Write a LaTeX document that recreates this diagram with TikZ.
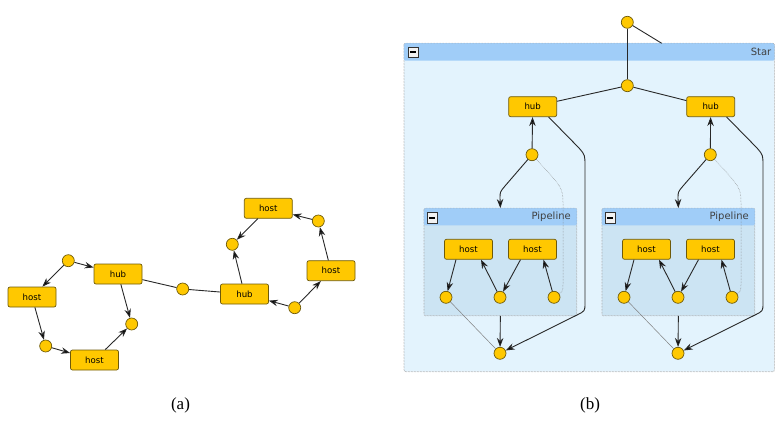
\documentclass[tikz,border=0pt]{standalone}
\usepackage{fontspec}
\setmainfont{Liberation Serif}
\newfontfamily\dv{DejaVu Sans}
\usetikzlibrary{arrows.meta}
\definecolor{ycol}{RGB}{255,200,0}
\definecolor{bcol}{RGB}{110,90,10}
\definecolor{hdrblue}{RGB}{160,205,248}
\definecolor{starbody}{RGB}{227,243,253}
\definecolor{pipebody}{RGB}{204,228,243}
\definecolor{edgecol}{RGB}{40,40,40}
\tikzset{
  hostbox/.style={rectangle, rounded corners=2pt, fill=ycol, draw=bcol, line width=0.7pt,
    minimum width=48pt, minimum height=20pt, inner sep=0pt, font=\dv\fontsize{8.6}{8.6}\selectfont},
  dot/.style={circle, fill=ycol, draw=bcol, line width=0.7pt, minimum size=12pt, inner sep=0pt},
  edge/.style={draw=edgecol, line width=0.9pt},
  arr/.style={edge, -{Stealth[length=9pt,width=6.5pt,fill=black]}},
  thinline/.style={draw=gray, line width=0.5pt},
  dotline/.style={draw=gray, line width=0.5pt, densely dotted},
  container/.style={rectangle, rounded corners=2pt, draw=gray!70, densely dotted, line width=0.5pt, inner sep=0pt},
  minusbox/.style={rectangle, draw=gray!40!black, fill=gray!10, line width=0.6pt, minimum size=10.5pt, inner sep=0pt},
  hdrtext/.style={font=\dv\fontsize{10}{10}\selectfont, text=black!75, inner sep=0pt, anchor=east},
  caption/.style={font=\fontsize{17}{17}\selectfont, inner sep=0pt}
}
\begin{document}
\begin{tikzpicture}[x=1pt,y=-1pt]
\useasboundingbox (0,0) rectangle (779,422);

% ---------------- Panel (a) ----------------
\node[hostbox] (hA1) at (32,297) {host};
\node[hostbox] (hubA1) at (118,274) {hub};
\node[hostbox] (hA2) at (94.5,360) {host};
\node[dot] (cA1) at (68.3,260.7) {};
\node[dot] (cA2) at (45.7,346) {};
\node[dot] (cA3) at (131.7,324) {};
\node[dot] (cM) at (182.7,289) {};
\node[hostbox] (hubA2) at (244.5,294) {hub};
\node[dot] (cA4) at (294.7,307.7) {};
\node[hostbox] (hA3) at (331,270.7) {host};
\node[dot] (cA5) at (318.3,221) {};
\node[hostbox] (hA4) at (268.3,208.3) {host};
\node[dot] (cA6) at (232.3,244.3) {};

\draw[arr] (cA1) -- (hA1);
\draw[arr] (cA1) -- (hubA1);
\draw[arr] (hA1) -- (cA2);
\draw[arr] (cA2) -- (hA2);
\draw[arr] (hA2) -- (cA3);
\draw[arr] (hubA1) -- (cA3);
\draw[edge] (hubA1) -- (cM) -- (hubA2);
\draw[arr] (cA4) -- (hubA2);
\draw[arr] (cA4) -- (hA3);
\draw[arr] (hA3) -- (cA5);
\draw[arr] (cA5) -- (hA4);
\draw[arr] (hA4) -- (cA6);
\draw[arr] (hubA2) -- (cA6);

\node[caption] (capA) at (180.5,405) {(a)};

% ---------------- Panel (b) ----------------
% Star container
\node[container, fill=starbody, minimum width=370.3pt, minimum height=328.4pt] (star) at (589.15,207.5) {};
\fill[hdrblue, rounded corners=2pt] (star.north west) rectangle ([yshift=-17.7pt]star.north east);
\draw[gray!70, densely dotted, line width=0.5pt, rounded corners=2pt] (star.north west) rectangle (star.south east);
\node[minusbox] (mS) at (413.2,52.2) {};
\draw[line width=1.4pt] ([xshift=-3pt]mS.center) -- ([xshift=3pt]mS.center);
\node[hdrtext] (starlbl) at (771.5,52.2) {Star};

% Pipelines
\foreach \nm/\cx in {pipeL/500.35, pipeR/678.35}{
  \node[container, fill=pipebody, minimum width=152.7pt, minimum height=107.4pt] (\nm) at (\cx,262) {};
  \fill[hdrblue, rounded corners=2pt] (\nm.north west) rectangle ([yshift=-17.4pt]\nm.north east);
  \draw[gray!70, densely dotted, line width=0.5pt, rounded corners=2pt] (\nm.north west) rectangle (\nm.south east);
  \node[minusbox] (\nm m) at ([xshift=8.3pt,yshift=-9.9pt]\nm.north west) {};
  \draw[line width=1.4pt] ([xshift=-3pt]\nm m.center) -- ([xshift=3pt]\nm m.center);
  \node[hdrtext] (\nm lbl) at ([xshift=-6pt,yshift=-9pt]\nm.north east) {Pipeline};
}

% top nodes
\node[dot] (cT) at (627.3,22.3) {};
\coordinate (cTend) at (661.7,43.3);
\node[dot] (cS) at (627.3,85.7) {};
\node[hostbox] (hubL) at (532.7,106.7) {hub};
\node[hostbox] (hubR) at (710.7,106.7) {hub};
\node[dot] (cL) at (532,154.7) {};
\node[dot] (cR) at (710.3,154.7) {};

% left pipeline content
\node[hostbox] (pL1) at (468.5,249.3) {host};
\node[hostbox] (pL2) at (532.5,249.3) {host};
\node[dot] (qL1) at (446,297.3) {};
\node[dot] (qL2) at (500,297.3) {};
\node[dot] (qL3) at (554,297.3) {};
\node[dot] (bL) at (500,353.3) {};
% right pipeline content
\node[hostbox] (pR1) at (646.5,249.3) {host};
\node[hostbox] (pR2) at (710.5,249.3) {host};
\node[dot] (qR1) at (624,297.3) {};
\node[dot] (qR2) at (678,297.3) {};
\node[dot] (qR3) at (732,297.3) {};
\node[dot] (bR) at (678,353.3) {};

% edges top
\draw[edge] (cT) -- (cTend);
\draw[edge] (cT) -- (cS);
\draw[edge] (cS) -- (hubL);
\draw[edge] (cS) -- (hubR);
\draw[arr] (cL) -- (hubL);
\draw[arr] (cR) -- (hubR);

% left group edges
\draw[arr] (cL) -- (505,186) .. controls (500,192) .. (500,198) -- (pipeL.north);
\draw[dotline] (cL) .. controls (563,188) .. (563,205) -- (563,282) .. controls (563,291) .. (qL3);
\draw[arr] ([xshift=-8.4pt]hubL.south east) -- (579,148) .. controls (585,155) .. (585,166) -- (585,303) .. controls (585,311) .. (577,315) -- (bL);
\draw[arr] ([xshift=-12.5pt]pL1.south) -- (qL1);
\draw[arr] (qL2) -- ([xshift=12.5pt]pL1.south);
\draw[arr] ([xshift=-12pt]pL2.south) -- (qL2);
\draw[arr] (qL3) -- ([xshift=11pt]pL2.south);
\draw[arr] (pipeL.south) -- (bL);
\draw[thinline] (qL1) -- (bL);

% right group edges
\draw[arr] (cR) -- (683,186) .. controls (678,192) .. (678,198) -- (pipeR.north);
\draw[dotline] (cR) .. controls (741,188) .. (741,205) -- (741,282) .. controls (741,291) .. (qR3);
\draw[arr] ([xshift=-8.4pt]hubR.south east) -- (757,148) .. controls (763,155) .. (763,166) -- (763,303) .. controls (763,311) .. (755,315) -- (bR);
\draw[arr] ([xshift=-12.5pt]pR1.south) -- (qR1);
\draw[arr] (qR2) -- ([xshift=12.5pt]pR1.south);
\draw[arr] ([xshift=-12pt]pR2.south) -- (qR2);
\draw[arr] (qR3) -- ([xshift=11pt]pR2.south);
\draw[arr] (pipeR.south) -- (bR);
\draw[thinline] (qR1) -- (bR);

\node[caption] (capB) at (590,405) {(b)};
\end{tikzpicture}
\end{document}
